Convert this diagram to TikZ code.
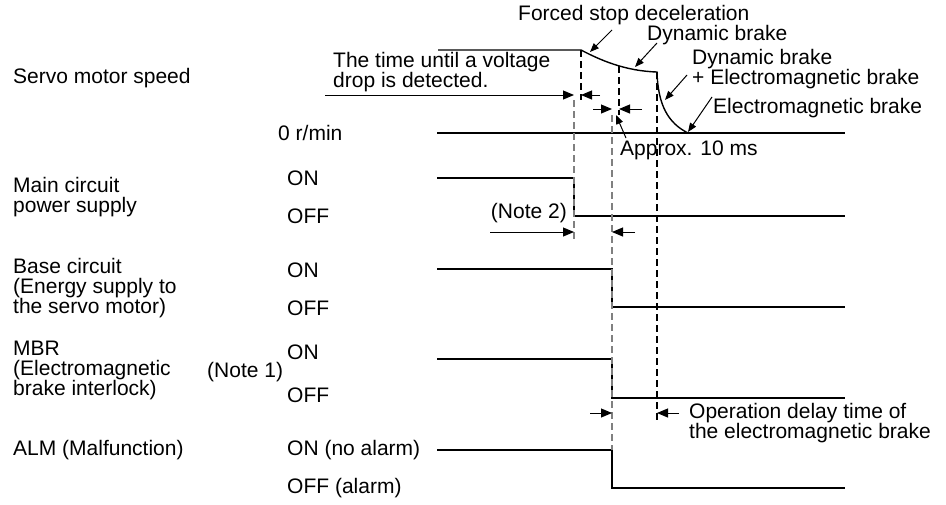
\documentclass[tikz,border=0pt]{standalone}
\usepackage{fontspec}
\setmainfont{Liberation Sans}
\usetikzlibrary{arrows.meta}

\begin{document}
\begin{tikzpicture}[x=1pt, y=-1pt,
    lbl/.style={font=\fontsize{21}{20}\selectfont, inner sep=0pt, align=left},
    sig/.style={line width=1.4pt},
    guide/.style={line width=1.1pt, dash pattern=on 7pt off 4pt},
    guidegray/.style={guide, gray},
    dim/.style={line width=1pt, -{Triangle[length=11pt,width=9pt]}},
    callout/.style={line width=1pt, -{Triangle[length=9pt,width=7pt]}}
]
\useasboundingbox (0,0) rectangle (946,504);

\node[lbl, anchor=west] (speed) at (13,78) {Servo motor speed};
\node[lbl, anchor=west] (main) at (13,197) {Main circuit\\power supply};
\node[lbl, anchor=west] (base) at (13,288) {Base circuit\\(Energy supply to\\the servo motor)};
\node[lbl, anchor=west] (mbr) at (13,370) {MBR\\(Electromagnetic\\brake interlock)};
\node[lbl, anchor=west] (alm) at (13,450) {ALM (Malfunction)};
\node[lbl, anchor=west] (note1) at (207,372) {(Note 1)};

\node[lbl, anchor=west] (zero) at (278,133) {0 r/min};
\node[lbl, anchor=west] (mainon) at (287,178) {ON};
\node[lbl, anchor=west] (mainoff) at (287,216) {OFF};
\node[lbl, anchor=west] (baseon) at (287,270) {ON};
\node[lbl, anchor=west] (baseoff) at (287,308) {OFF};
\node[lbl, anchor=west] (mbron) at (287,352) {ON};
\node[lbl, anchor=west] (mbroff) at (287,395) {OFF};
\node[lbl, anchor=west] (almon) at (287,450) {ON (no alarm)};
\node[lbl, anchor=west] (almoff) at (287,488) {OFF (alarm)};

\draw[sig] (438,50) coordinate (sp0) -- (581,50) coordinate (sp1)
    .. controls (600,60) and (625,71) .. (657,72) coordinate (sp2)
    .. controls (658,105) and (668,123) .. (688,133) coordinate (sp3);
\draw[sig] (437,133) -- (845,133);
\draw[sig] (437,178) -- (574,178) -- (574,216) -- (845,216);
\draw[sig] (437,269) -- (612,269) -- (612,307) -- (845,307);
\draw[sig] (437,359) -- (612,359) -- (612,398) -- (845,398);
\draw[sig] (437,450) -- (612,450) -- (612,488) -- (845,488);

\draw[guide] (sp1) -- (581,100);
\draw[guidegray] (574,100) -- (574,240);
\draw[guide] (619,66) -- (619,115);
\draw[guidegray] (612,115) -- (612,450);
\draw[guide] (sp2) -- (657,420);

\coordinate (volta) at (325,95);
\coordinate (voltb) at (574,95);
\coordinate (voltc) at (581,95);
\coordinate (voltd) at (600,95);
\draw[dim] (volta) -- (voltb);
\draw[dim] (voltd) -- (voltc);
\coordinate (appa) at (593,109);
\coordinate (appb) at (612,109);
\coordinate (appc) at (619,109);
\coordinate (appd) at (642,109);
\draw[dim] (appa) -- (appb);
\draw[dim] (appd) -- (appc);
\coordinate (nta) at (490,232);
\coordinate (ntb) at (574,232);
\coordinate (ntc) at (612,232);
\coordinate (ntd) at (635,232);
\draw[dim] (nta) -- (ntb);
\draw[dim] (ntd) -- (ntc);
\coordinate (opa) at (590,413);
\coordinate (opb) at (612,413);
\coordinate (opc) at (657,413);
\coordinate (opd) at (679,413);
\draw[dim] (opa) -- (opb);
\draw[dim] (opd) -- (opc);

\node[lbl, anchor=west] (forced) at (518,15) {Forced stop deceleration};
\node[lbl, anchor=west] (dyn) at (647,35) {Dynamic brake};
\node[lbl, anchor=west] (dynem) at (692,69) {Dynamic brake\\+ Electromagnetic brake};
\node[lbl, anchor=west] (em) at (713,108) {Electromagnetic brake};
\node[lbl, anchor=west] (volt) at (333,72) {The time until a voltage\\drop is detected.};
\node[lbl, anchor=west] (approx) at (620,150) {Approx. 10 ms};
\node[lbl, anchor=east] (note2) at (567,213) {(Note 2)};
\node[lbl, anchor=west] (opdelay) at (689,423) {Operation delay time of\\the electromagnetic brake};

\coordinate (forcedtail) at (612,30);
\coordinate (forcedtip) at (590,52);
\coordinate (dyntail) at (657,43);
\coordinate (dyntip) at (635,67);
\coordinate (dynemtail) at (687,75);
\coordinate (dynemtip) at (665,100);
\coordinate (emtail) at (712,97);
\coordinate (emtip) at (688,132);
\coordinate (approxtail) at (626,138);
\coordinate (approxtip) at (616,115);
\draw[callout] (forcedtail) -- (forcedtip);
\draw[callout] (dyntail) -- (dyntip);
\draw[callout] (dynemtail) -- (dynemtip);
\draw[callout] (emtail) -- (emtip);
\draw[callout] (approxtail) -- (approxtip);
\end{tikzpicture}
\end{document}
